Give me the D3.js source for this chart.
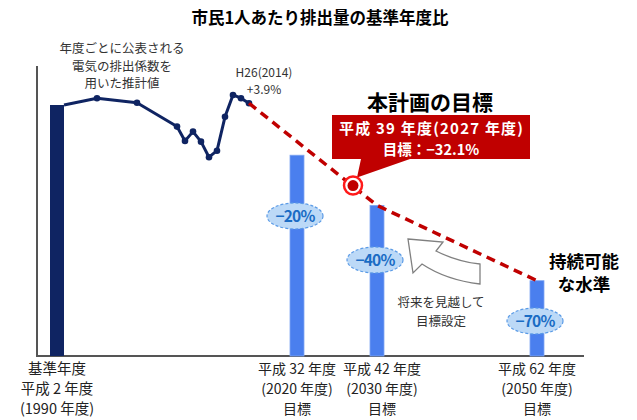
<!DOCTYPE html>
<html><head><meta charset="utf-8">
<script src="https://cdn.jsdelivr.net/npm/d3@7"></script>
<style>
html,body{margin:0;padding:0;background:#fff;}
svg{display:block;font-family:"Noto Sans CJK JP","Noto Sans",sans-serif;}
</style></head>
<body>
<svg id="chart" width="637" height="420"></svg>
<script>
// ---- data ----
const title = "市民1人あたり排出量の基準年度比";
const baseYear = 1990;
const baseValue = 100;
const lineYears  = [1990, 1995, 2000, 2005, 2006, 2007, 2008, 2009, 2010, 2011, 2012, 2013, 2014];
const lineValues = [100, 102.7, 100.9, 91.4, 85.7, 89.4, 85.4, 79.2, 81.8, 95.3, 104.0, 102.7, 100.7];
const pathYears  = [2014, 2030, 2050];
const pathValues = [100.7, 60, 30];
const targetYears  = [2020, 2030, 2050];
const targetValues = [80, 60, 30];
const targetLabels = ["−20%", "−40%", "−70%"];
const planYear = 2027;
const planValue = 67.9;
const baseLabel = ["基準年度", "平成 2 年度", "(1990 年度)"];
const targetAxisLabels = [
  ["平成 32 年度", "(2020 年度)", "目標"],
  ["平成 42 年度", "(2030 年度)", "目標"],
  ["平成 62 年度", "(2050 年度)", "目標"]
];
const noteLines = ["年度ごとに公表される", "電気の排出係数を", "用いた推計値"];
const peakLabel = ["H26(2014)", "+3.9%"];
const planTitle = "本計画の目標";
const planBox = ["平成 39 年度(2027 年度)", "目標：−32.1%"];
const sustainLabel = ["持続可能", "な水準"];
const arrowNote = ["将来を見越して", "目標設定"];

// ---- layout ----
const svg = d3.select("#chart");
const x = d3.scaleLinear().domain([1990, 2050]).range([57, 537]);
const y = d3.scaleLinear().domain([0, 100]).range([356, 105]);
const barW = 14;
const badgeY = [216, 260, 321];

// title
svg.append("text").attr("x", 320).attr("y", 24).attr("text-anchor", "middle")
  .attr("font-size", 16.5).attr("font-weight", "bold").attr("fill", "#000").text(title);

// axes
svg.append("line").attr("x1", 37).attr("x2", 37).attr("y1", 66).attr("y2", y(0))
  .attr("stroke", "#555").attr("stroke-width", 2);
svg.append("line").attr("x1", 36).attr("x2", 584).attr("y1", y(0)).attr("y2", y(0))
  .attr("stroke", "#555").attr("stroke-width", 2);

// base bar
svg.append("rect").attr("x", x(baseYear) - barW / 2).attr("width", barW)
  .attr("y", y(baseValue)).attr("height", y(0) - y(baseValue)).attr("fill", "#0f2462");

// target bars
svg.selectAll("rect.target").data(targetYears).join("rect").attr("class", "target")
  .attr("x", d => x(d) - barW / 2).attr("width", barW)
  .attr("y", (d, i) => y(targetValues[i])).attr("height", (d, i) => y(0) - y(targetValues[i]))
  .attr("fill", "#4a7fee").attr("stroke", "#7fa6f2").attr("stroke-width", 0.8);

// navy line of estimates
const pts = lineYears.map((yr, i) => [yr === baseYear ? x(yr) + barW / 2 : x(yr), y(lineValues[i])]);
svg.append("path").attr("d", d3.line()(pts)).attr("fill", "none")
  .attr("stroke", "#0f2462").attr("stroke-width", 3).attr("stroke-linejoin", "round");
svg.selectAll("circle.pt").data(pts.slice(1)).join("circle").attr("class", "pt")
  .attr("cx", d => d[0]).attr("cy", d => d[1]).attr("r", 3.3).attr("fill", "#0f2462");

// red dashed path
const dpts = pathYears.map((yr, i) => [x(yr), y(pathValues[i])]);
svg.append("path").attr("d", d3.line()(dpts)).attr("fill", "none")
  .attr("stroke", "#c00000").attr("stroke-width", 3.5).attr("stroke-dasharray", "9,6");

// callout box
const cx = x(planYear), cy = y(planValue);
svg.append("path")
  .attr("d", `M332,115 L530,115 L530,159 L410,159 L${cx + 4},${cy - 8} L361,159 L332,159 Z`)
  .attr("fill", "#c00000");
svg.append("text").attr("x", 431).attr("y", 134).attr("text-anchor", "middle")
  .attr("font-size", 15).attr("font-weight", "bold").attr("fill", "#fff")
  .attr("textLength", 184).attr("lengthAdjust", "spacing").text(planBox[0]);
svg.append("text").attr("x", 431).attr("y", 155).attr("text-anchor", "middle")
  .attr("font-size", 14.5).attr("font-weight", "bold").attr("fill", "#fff").text(planBox[1]);
svg.append("text").attr("x", 430).attr("y", 110).attr("text-anchor", "middle")
  .attr("font-size", 21).attr("font-weight", "bold").attr("fill", "#000").text(planTitle);

// target marker
svg.append("circle").attr("cx", cx).attr("cy", cy).attr("r", 9)
  .attr("fill", "#fff").attr("stroke", "#ff1a1a").attr("stroke-width", 2.5);
svg.append("circle").attr("cx", cx).attr("cy", cy).attr("r", 5.5).attr("fill", "#c00000");

// badges
targetYears.forEach((yr, i) => {
  const g = svg.append("g");
  g.append("ellipse").attr("cx", x(yr) - 2).attr("cy", badgeY[i]).attr("rx", 28).attr("ry", 13)
    .attr("fill", "#bcd9f7").attr("stroke", "#5b9be6").attr("stroke-width", 1.2)
    .attr("stroke-dasharray", "3,2");
  g.append("text").attr("x", x(yr) - 2).attr("y", badgeY[i] + 5.5).attr("text-anchor", "middle")
    .attr("font-size", 15.5).attr("font-weight", "bold").attr("fill", "#1a6cc4")
    .attr("letter-spacing", -0.8).text(targetLabels[i]);
});

// hollow arrow
svg.append("path")
  .attr("d", "M408,239 L443,242 L436,251 Q458,262 480,264 L480,284 Q446,280 422,264 L413,273 Z")
  .attr("fill", "#fff").attr("stroke", "#808080").attr("stroke-width", 1.3);

// notes
noteLines.forEach((t, i) => svg.append("text").attr("x", 122).attr("y", 53 + i * 17.5)
  .attr("text-anchor", "middle").attr("font-size", 12.5).attr("fill", "#333").text(t));
peakLabel.forEach((t, i) => svg.append("text").attr("x", 264).attr("y", 77 + i * 17)
  .attr("text-anchor", "middle").attr("font-size", 12).attr("fill", "#333").text(t));
arrowNote.forEach((t, i) => svg.append("text").attr("x", 441).attr("y", 307 + i * 19)
  .attr("text-anchor", "middle").attr("font-size", 12.5).attr("fill", "#333").text(t));
sustainLabel.forEach((t, i) => svg.append("text").attr("x", 584).attr("y", 268 + i * 23)
  .attr("text-anchor", "middle").attr("font-size", 17.5).attr("font-weight", "bold").attr("fill", "#000").text(t));

// axis labels
baseLabel.forEach((t, i) => svg.append("text").attr("x", x(baseYear)).attr("y", 374 + i * 20)
  .attr("text-anchor", "middle").attr("font-size", 14.5).attr("fill", "#222").text(t));
const labelX = [297, 382, 537];
targetAxisLabels.forEach((lines, j) => lines.forEach((t, i) =>
  svg.append("text").attr("x", labelX[j]).attr("y", 374 + i * 20)
    .attr("text-anchor", "middle").attr("font-size", 14).attr("fill", "#222").text(t)));
</script>
</body></html>
